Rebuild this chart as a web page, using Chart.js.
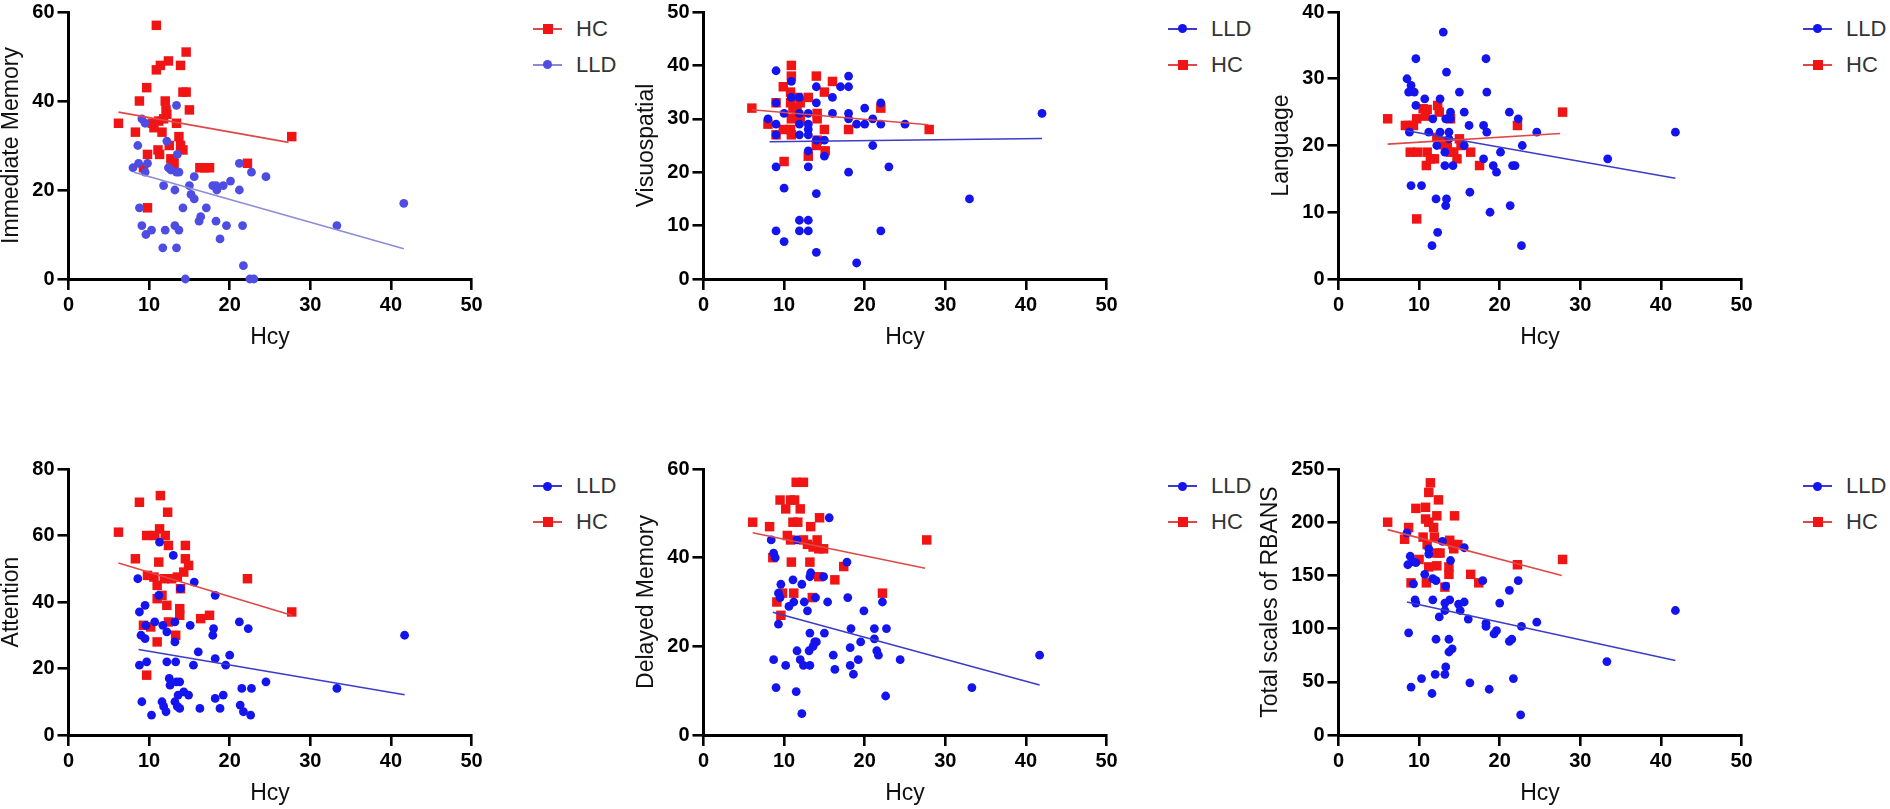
<!DOCTYPE html>
<html lang="en">
<head>
<meta charset="UTF-8">
<title>Hcy and RBANS scores</title>
<script src="https://cdn.jsdelivr.net/npm/chart.js"></script>
<style>
  html, body { margin: 0; padding: 0; background: #fff; }
  body {
    width: 1890px; height: 809px; overflow: hidden; position: relative;
    font-family: "Liberation Sans", Arial, sans-serif;
  }
  .panel { position: absolute; }
  .legend { position: absolute; font-size: 22px; color: #333; }
  .legend .row { position: absolute; left: 0; width: 120px; height: 0; }
  .legend .line { position: absolute; left: 0; width: 29px; top: -1px; height: 2px; }
  .legend .mark { position: absolute; }
  .legend .txt { position: absolute; left: 43px; top: -12px; line-height: 24px; white-space: nowrap; }
</style>
</head>
<body>
<script>
// axis setup
const xTicks = [0, 10, 20, 30, 40, 50];
const panelTitles = ['Immediate Memory', 'Visuospatial', 'Language', 'Attention', 'Delayed Memory', 'Total scales of RBANS'];
const yMax = [60, 50, 40, 80, 60, 250];
const yStep = [20, 10, 10, 20, 20, 50];
const seriesNames = ['HC', 'LLD'];

// Immediate Memory
const immHC = [[6.2,35],[8.3,33],[8.8,40],[9.7,43],[9.3,25],[9.8,28],[9.8,16],[10.4,35],[10.6,34],[10.9,47],
  [10.9,57],[11.4,48],[11.2,35.5],[11.1,29],[11.3,28],[11.6,33],[11.8,36],[12,40],[12.1,38],[12.2,37],
  [12.4,49],[12.5,30],[12.7,27],[13,26.5],[13.1,26],[13.4,35],[13.7,32],[13.9,48],[13.9,30],[14.2,29],
  [14.2,42],[14.6,42],[14.6,51],[15,38],[16.3,25],[16.9,25],[17.5,25],[22.2,26],[27.7,32]];
const immLLD = [[8,25],[8.6,30],[8.7,26],[8.8,16],[9.1,36],[9.1,12],[9.5,35],[9.5,24],[9.6,10],[9.8,26],
  [10.3,11],[11.7,7],[11.8,21],[12,11],[12.2,31],[12.4,25],[12.7,24.5],[13.2,20],[13.2,12],[13.4,39],
  [13.4,7],[13.5,28],[13.4,24],[13.7,24],[13.7,11],[14.2,16],[14.5,0],[15,21],[15.2,19],[15.6,23],
  [15.6,18],[16.2,13],[16.4,14],[17.1,16],[17.9,21],[18.3,13],[18.4,20],[18.3,21],[18.8,9],[19.2,21],
  [19.6,12],[20.1,22],[21.2,20],[21.2,26],[21.6,12],[21.7,3],[22.5,0],[23,0],[22.7,24],[24.5,23],
  [33.3,12],[41.6,17]];
const immHCFit = [[6.2,37.5],[27.3,30.7]];
const immLLDFit = [[8.1,24],[41.6,6.8]];

// Visuospatial
const visHC = [[6,32],[8,29],[9,33],[9,27],[9.9,36],[10,22],[9.9,28],[10.9,40],[10.9,38],[10.8,35],
  [10.8,33],[11.1,32],[10.9,30],[10.8,28],[10.9,27],[11.6,32],[11.7,34],[12,33],[12,30],[13,34],
  [13,23],[14,38],[14.1,31],[14.1,30],[14.1,26],[14,25],[15,35],[15,28],[15.1,24],[16,37],
  [18,28],[22,32],[28,28]];
const visLLD = [[9,39],[8,30],[9,33],[9,29],[9,27],[9,21],[9,9],[10,31],[10,17],[10,7],
  [10.9,37],[10.9,34],[11.9,34],[11.9,31],[11.9,29],[11.9,27],[11.9,11],[11.9,9],[13,31],[13,29],
  [13,28],[13,27],[13,24],[13,21],[13,11],[13,9],[14,36],[14,33],[14,26],[14,16],
  [14,5],[15,26],[15,23],[16,34],[16,31],[17,36],[18,38],[18,36],[18,31],[18,30],
  [18,20],[19,29],[19,3],[20,32],[20,29],[21,30],[21,25],[22,33],[22,29],[22,9],
  [23,21],[25,29],[33,15],[42,31]];
const visHCFit = [[6,31.7],[27.9,28.9]];
const visLLDFit = [[8.2,25.7],[42,26.3]];

// Language
const langHC = [[6.1,24],[8.3,23],[8.7,23],[9.7,24],[9.3,23],[8.9,19],[9.8,19],[9.7,9],[10.5,25.5],[11,25.4],
  [10.8,24.4],[11,19],[10.9,17],[11.9,18],[11.4,18],[12.3,26],[12.5,25],[12.2,21.2],[12.7,20.6],[13.1,20.1],
  [13.5,19.7],[13.9,24],[13.9,19],[14.3,19],[14.7,18],[15,21],[15.2,20],[16.4,19],[17.5,17],[22.2,23],
  [27.8,25]];
const langLLD = [[8.5,30],[9,29],[8.7,28],[9.4,28],[9.6,33],[9.6,26],[8.8,22],[9,14],[10.3,14],[10.7,27],
  [11.7,24],[11.2,22],[12.1,12],[12.3,7],[11.6,5],[12.2,20],[12.6,27],[12.6,22],[13,37],[13.4,31],
  [13.3,24],[13.2,19],[13.2,17],[13.4,12],[13.3,11],[13.7,22],[13.7,21],[13.9,25],[13.9,24],[14.2,17],
  [15,28],[15.6,25],[15.6,20],[16.2,23],[16.3,13],[18,23],[18,18],[18.3,33],[18.4,28],[18.4,22],
  [18.8,10],[19.2,17],[19.6,16],[20.1,19],[21.2,25],[21.3,11],[21.6,17],[21.9,17],[22.3,24],[22.7,5],
  [22.8,20],[24.6,22],[33.4,18],[41.8,22]];
const langHCFit = [[6.1,20.2],[27.5,21.8]];
const langLLDFit = [[8.5,22.2],[41.8,15.1]];

// Attention
const attHC = [[6.2,61],[8.8,70],[11.4,72],[12.3,67],[11.3,62],[9.7,60],[10.7,60],[12,60],[12.4,57],[14.5,57],
  [14.5,53],[14.9,51],[8.3,53],[11.2,52],[14.3,49],[9.8,48],[10.6,47.5],[11.9,47],[12.8,47],[13.5,47.5],
  [11,45],[13.9,44],[22.2,47],[11.6,42],[11,41],[12.2,39],[13.8,38],[13.8,36],[16.4,35],[17.5,36],
  [27.7,37],[9.3,33],[10.2,32.5],[12.4,34],[13.3,30],[11,28],[9.7,18]];
const attLLD = [[11.3,58],[13,54],[8.6,47],[15.6,46],[13.9,44],[11.2,42],[18.2,42],[9.5,39],[8.8,37],[9.6,33],
  [10.7,34],[11.7,33],[13.2,34],[15.1,33],[18,32],[21.2,34],[22.3,32],[9,30],[9.5,29],[12.2,31],
  [17.9,30],[13.2,28],[41.7,30],[16.1,25],[18.2,23],[20,24],[8.8,21],[9.7,22],[12.2,22],[13.3,22],
  [15.5,21],[19.5,21],[12.5,17],[12.6,15],[13.4,16],[13.8,16],[14.3,13],[14.9,12],[13.6,12],[21.5,14],
  [22.7,14],[24.5,16],[33.3,14],[9.1,10],[11.6,10],[11.8,8.6],[12.1,7],[13.2,10],[13.5,8.6],[13.8,8],
  [16.3,8],[18.2,11],[18.8,8],[19.2,12],[21.3,9],[21.7,7],[22.6,6],[10.3,6]];
const attHCFit = [[6.2,51.7],[27.7,36]];
const attLLDFit = [[8.7,25.7],[41.7,12.1]];

// Delayed Memory
const delHC = [[6.1,48],[8.2,47],[8.6,40],[9.5,53],[10.2,51],[10.8,53],[11.3,53],[11.5,57],[12.4,57],[12,51],
  [11.1,48],[11.7,48],[10.4,45],[10.8,44],[12.4,44],[12.9,43],[14.1,44],[13.6,42.4],[14.3,42],[14.9,42],
  [13.3,47],[14.4,49],[27.7,44],[10.9,39],[13.2,39],[17.4,38],[14.3,35.7],[16.3,35],[9.8,32],[11.2,32],
  [13.5,31],[22.2,32],[9.1,30],[9.6,27]];
const delLLD = [[15.6,49],[8.4,44],[11.6,44],[8.7,41],[8.9,40],[17.8,39],[13.3,36.6],[13.2,35.7],[14.9,35.7],[11.1,35],
  [12.2,34],[9.6,34],[9.3,32],[9.5,31],[13.9,31],[17.9,31],[22.2,30],[15.4,30],[12.5,30],[11.2,30],
  [10.6,29],[12.9,28],[19.9,28],[9.3,25],[18.3,24],[21.2,24],[22.7,24],[13.2,23],[15,23],[21.2,21.7],
  [13.8,21],[14,21],[19.5,21],[13.6,20],[18.2,19.7],[11.6,19],[13.1,19],[21.5,19],[21.7,18],[41.7,18],
  [8.7,17],[12,17],[16.1,18],[19.2,17],[24.4,17],[10.2,15.7],[12.4,15.7],[13.2,15.7],[18.2,15.7],[16.3,14.8],
  [18.6,13.7],[9,10.7],[11.5,9.8],[33.3,10.7],[22.6,8.8],[12.2,4.8]];
const delHCFit = [[6.1,45.6],[27.5,37.6]];
const delLLDFit = [[8.6,27.7],[41.7,11.3]];

// Total scales of RBANS
const totHC = [[6.1,200],[8.2,184],[8.7,195],[9.6,213],[10.8,214],[11.4,237],[11.2,228],[12.4,221],[12.2,206],[14.4,206],
  [10.8,203],[11.2,200],[11.8,195],[11.9,186],[10.5,186],[11,179],[13.8,183],[14.2,179],[14.8,179],[14.3,175],
  [12.2,171],[12.6,171],[10,165],[12.2,159],[13.7,158],[13.7,151],[16.4,151],[17.4,143],[9,143],[10.9,143],
  [13.2,139],[22.2,160],[27.8,165],[11.2,158]];
const totLLD = [[8.5,190],[12.9,182],[15.6,176],[11.2,175],[11.2,170],[8.9,168],[13.9,164],[8.6,160],[9.2,163],[9.6,162],
  [10.7,151],[11.7,147],[12.1,145],[9.3,142],[13.3,140],[17.9,145],[22.3,145],[21.2,136],[9.5,127],[9.6,124],
  [11.7,127],[13.8,127],[13.2,124],[14.9,123],[15.6,125],[20,124],[13.2,117],[15.1,117],[12.5,111],[16.1,109],
  [18.3,105],[18.3,102],[19.3,95],[19.6,98],[22.7,102],[24.6,106],[8.7,96],[12.1,90],[13.7,90],[21.2,88],
  [21.5,90],[13.7,78],[14.1,81],[13.3,64],[13.2,57],[12,57],[10.3,53],[9,45],[11.6,39],[16.3,49],
  [18.7,43],[21.7,53],[22.6,19],[33.3,69],[41.8,117]];
const totHCFit = [[6.1,193],[27.7,150]];
const totLLDFit = [[8.5,125],[41.8,70]];

const RED = '#f01414';
const RED_LINE = '#e04848';
const BLUE = '#1414ee';
const BLUE_LINE = '#3c3cc8';
const BLUE_SOFT = '#4d4de4';
const BLUE_SOFT_LINE = '#8c8cd6';

const FONT = '"Liberation Sans", Arial, sans-serif';
const colX = [68, 703, 1338];
const rowTop = [10.7, 468];
const plotW = 403;
const plotH = [268, 267];
const padTop = 14, padRight = 16, xAxisH = 70;

const panels = [
  { hc: immHC, lld: immLLD, hcFit: immHCFit, lldFit: immLLDFit, legend: ['HC', 'LLD'], soft: true },
  { hc: visHC, lld: visLLD, hcFit: visHCFit, lldFit: visLLDFit, legend: ['LLD', 'HC'] },
  { hc: langHC, lld: langLLD, hcFit: langHCFit, lldFit: langLLDFit, legend: ['LLD', 'HC'] },
  { hc: attHC, lld: attLLD, hcFit: attHCFit, lldFit: attLLDFit, legend: ['LLD', 'HC'] },
  { hc: delHC, lld: delLLD, hcFit: delHCFit, lldFit: delLLDFit, legend: ['LLD', 'HC'] },
  { hc: totHC, lld: totLLD, hcFit: totHCFit, lldFit: totLLDFit, legend: ['LLD', 'HC'] }
];

const toXY = arr => arr.map(p => ({ x: p[0], y: p[1] }));

function addLegend(left, top, order, soft) {
  const box = document.createElement('div');
  box.className = 'legend';
  box.style.left = left + 'px';
  box.style.top = top + 'px';
  order.forEach((name, k) => {
    const isHC = name === 'HC';
    const row = document.createElement('div');
    row.className = 'row';
    row.style.top = (k * 36) + 'px';
    const line = document.createElement('div');
    line.className = 'line';
    line.style.background = isHC ? RED_LINE : (soft ? BLUE_SOFT_LINE : BLUE_LINE);
    const mark = document.createElement('div');
    mark.className = 'mark';
    if (isHC) {
      Object.assign(mark.style, { width: '10px', height: '10px', left: '10px', top: '-5px', background: RED });
    } else {
      Object.assign(mark.style, { width: '9px', height: '9px', left: '10px', top: '-4.5px', borderRadius: '50%', background: soft ? BLUE_SOFT : BLUE });
    }
    const txt = document.createElement('div');
    txt.className = 'txt';
    txt.textContent = name;
    row.appendChild(line);
    row.appendChild(mark);
    row.appendChild(txt);
    box.appendChild(row);
  });
  document.body.appendChild(box);
}

panels.forEach((p, i) => {
  const col = i % 3, row = Math.floor(i / 3);
  const axisW = yMax[i] >= 100 ? 79.5 : 68.5;
  const left = colX[col] - axisW;
  const top = rowTop[row] - padTop;
  const w = axisW + plotW + padRight;
  const h = padTop + plotH[row] + xAxisH;

  const div = document.createElement('div');
  div.className = 'panel';
  Object.assign(div.style, { left: left + 'px', top: top + 'px', width: w + 'px', height: h + 'px' });
  const canvas = document.createElement('canvas');
  div.appendChild(canvas);
  document.body.appendChild(div);

  const lldColor = p.soft ? BLUE_SOFT : BLUE;
  const lldLine = p.soft ? BLUE_SOFT_LINE : BLUE_LINE;
  const tickFont = { family: FONT, size: 20, weight: 'bold' };
  const titleFont = { family: FONT, size: 23, lineHeight: 1 };

  new Chart(canvas, {
    type: 'scatter',
    data: {
      datasets: [
        { label: 'HC fit', data: toXY(p.hcFit), showLine: true, pointRadius: 0, borderColor: RED_LINE, borderWidth: 1.6, order: 0, clip: false },
        { label: 'LLD fit', data: toXY(p.lldFit), showLine: true, pointRadius: 0, borderColor: lldLine, borderWidth: 1.6, order: 0, clip: false },
        { label: 'LLD', data: toXY(p.lld), pointStyle: 'circle', pointRadius: 4.4, backgroundColor: lldColor, borderColor: lldColor, borderWidth: 0, order: 1, clip: false },
        { label: 'HC', data: toXY(p.hc), pointStyle: 'rect', pointRadius: 6.7, backgroundColor: RED, borderColor: RED, borderWidth: 0, order: 2, clip: false }
      ]
    },
    options: {
      responsive: true,
      maintainAspectRatio: false,
      animation: false,
      events: [],
      layout: { padding: { top: padTop, right: padRight, left: 0, bottom: 0 } },
      plugins: { legend: { display: false }, tooltip: { enabled: false } },
      scales: {
        x: {
          type: 'linear',
          min: xTicks[0],
          max: xTicks[xTicks.length - 1],
          afterFit: s => { s.height = xAxisH; },
          afterBuildTicks: s => { s.ticks = xTicks.map(v => ({ value: v })); },
          ticks: { font: tickFont, color: '#000', padding: 3, maxRotation: 0 },
          grid: { drawOnChartArea: false, drawTicks: true, tickLength: 11, color: '#000', lineWidth: 2.6 },
          border: { display: true, color: '#000', width: 3 },
          title: { display: true, text: 'Hcy', font: titleFont, color: '#111', padding: 0 }
        },
        y: {
          type: 'linear',
          min: 0,
          max: yMax[i],
          afterFit: s => { s.width = axisW; },
          ticks: { stepSize: yStep[i], font: tickFont, color: '#000', padding: 3 },
          grid: { drawOnChartArea: false, drawTicks: true, tickLength: 11, color: '#000', lineWidth: 2.6 },
          border: { display: true, color: '#000', width: 3 },
          title: { display: true, text: panelTitles[i], font: titleFont, color: '#111', padding: 0 }
        }
      }
    }
  });

  addLegend(colX[col] + 465, rowTop[row] + 18, p.legend, p.soft);
});
</script>
</body>
</html>
